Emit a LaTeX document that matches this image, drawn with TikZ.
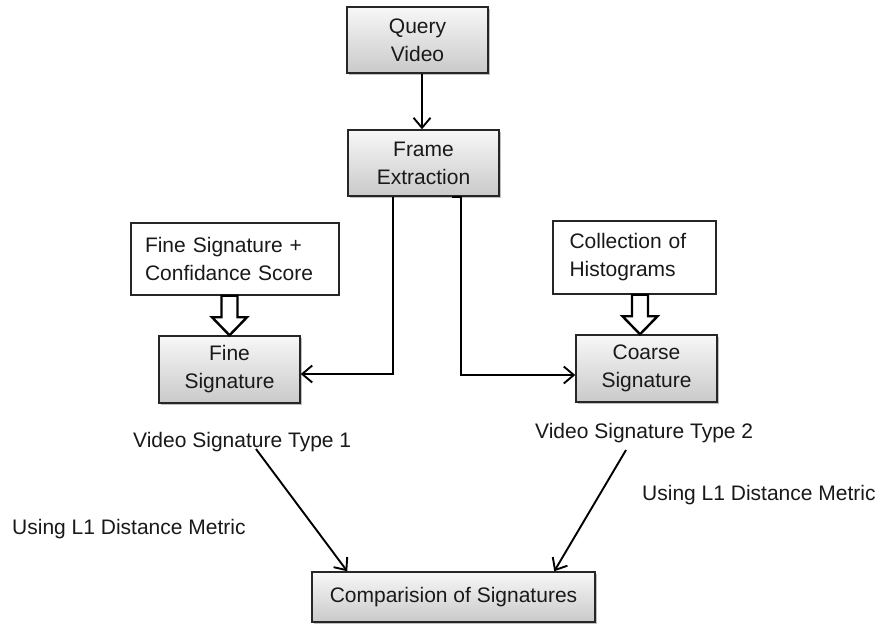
\documentclass[tikz,border=0pt]{standalone}
\usepackage{fontspec}
\setmainfont{Liberation Sans}
\usetikzlibrary{arrows.meta,shadows,calc}
\begin{document}
\begin{tikzpicture}[x=1pt,y=-1pt,
  font=\fontsize{21}{28}\selectfont,
  every node/.style={text=black!90, inner sep=0pt},
  graybox/.style={draw=black!85, line width=1.5pt, top color=gray!6, bottom color=gray!42,
     drop shadow={shadow xshift=2pt, shadow yshift=-2pt, fill=black!50, opacity=0.5},
     align=center, minimum width=141pt, minimum height=66pt},
  whitebox/.style={draw=black!85, line width=1.5pt, fill=white, align=left},
  label/.style={anchor=base west},
  arr/.style={draw=black, line width=1.9pt, -{Straight Barb[length=10pt,width=17pt,line width=1.9pt]}},
  hollow/.style={draw=black, line width=2.4pt, fill=white, line join=miter}
]
\useasboundingbox[fill=white] (0,0) rectangle (880,624);

\node[graybox] (qv) at (417.5,40) {Query\\Video};
\node[graybox, minimum width=151pt] (fe) at (423.5,163) {Frame\\Extraction};
\node[whitebox, minimum width=208pt, minimum height=72pt, text width=180pt] (fsc) at (235,259) {Fine Signature +\\Confidance Score};
\node[whitebox, minimum width=163pt, minimum height=73pt, text width=130pt] (ch) at (634.5,257.5) {Collection of\\Histograms};
\node[graybox, minimum height=67pt] (fs) at (229.5,369.5) {Fine\\Signature};
\node[graybox, minimum height=67pt] (cs) at (646.5,368.5) {Coarse\\Signature};
\node[graybox, minimum width=283pt, minimum height=50pt] (cmp) at (453.5,597) {Comparision of Signatures};

\node[label] (t1) at (133,447) {Video Signature Type 1};
\node[label] (t2) at (535,438) {Video Signature Type 2};
\node[label] (u1) at (12,534) {Using L1 Distance Metric};
\node[label] (u2) at (642,500) {Using L1 Distance Metric};

% connectors
\draw[arr] ([xshift=4.5pt]qv.south) -- ([xshift=-1.5pt]fe.north);
\draw[arr] ([xshift=-30.5pt]fe.south) |- ([yshift=-4.5pt]fs.east);
\draw[arr] ([xshift=28.5pt]fe.south) -- ([xshift=37.5pt]fe.south) |- ([yshift=-6.5pt]cs.west);

\coordinate (a1) at (256,449);
\coordinate (a2) at (626,450);
\draw[arr] (a1) -- ($(cmp.north west)+(36,0)$);
\draw[arr] (a2) -- ($(cmp.north west)+(243,0)$);

% hollow arrows
\coordinate (tipA) at (fs.north);
\coordinate (topA) at (tipA |- fsc.south);
\draw[hollow] ($(topA)+(-8,0)$) -- ($(tipA)+(-8,-18)$) -- ($(tipA)+(-17.5,-18)$) -- (tipA)
  -- ($(tipA)+(17.5,-18)$) -- ($(tipA)+(8,-18)$) -- ($(topA)+(8,0)$) -- cycle;
\coordinate (tipB) at ([xshift=-6.5pt]cs.north);
\coordinate (topB) at (tipB |- ch.south);
\draw[hollow] ($(topB)+(-8,0)$) -- ($(tipB)+(-8,-18)$) -- ($(tipB)+(-17.5,-18)$) -- (tipB)
  -- ($(tipB)+(17.5,-18)$) -- ($(tipB)+(8,-18)$) -- ($(topB)+(8,0)$) -- cycle;
\end{tikzpicture}
\end{document}
